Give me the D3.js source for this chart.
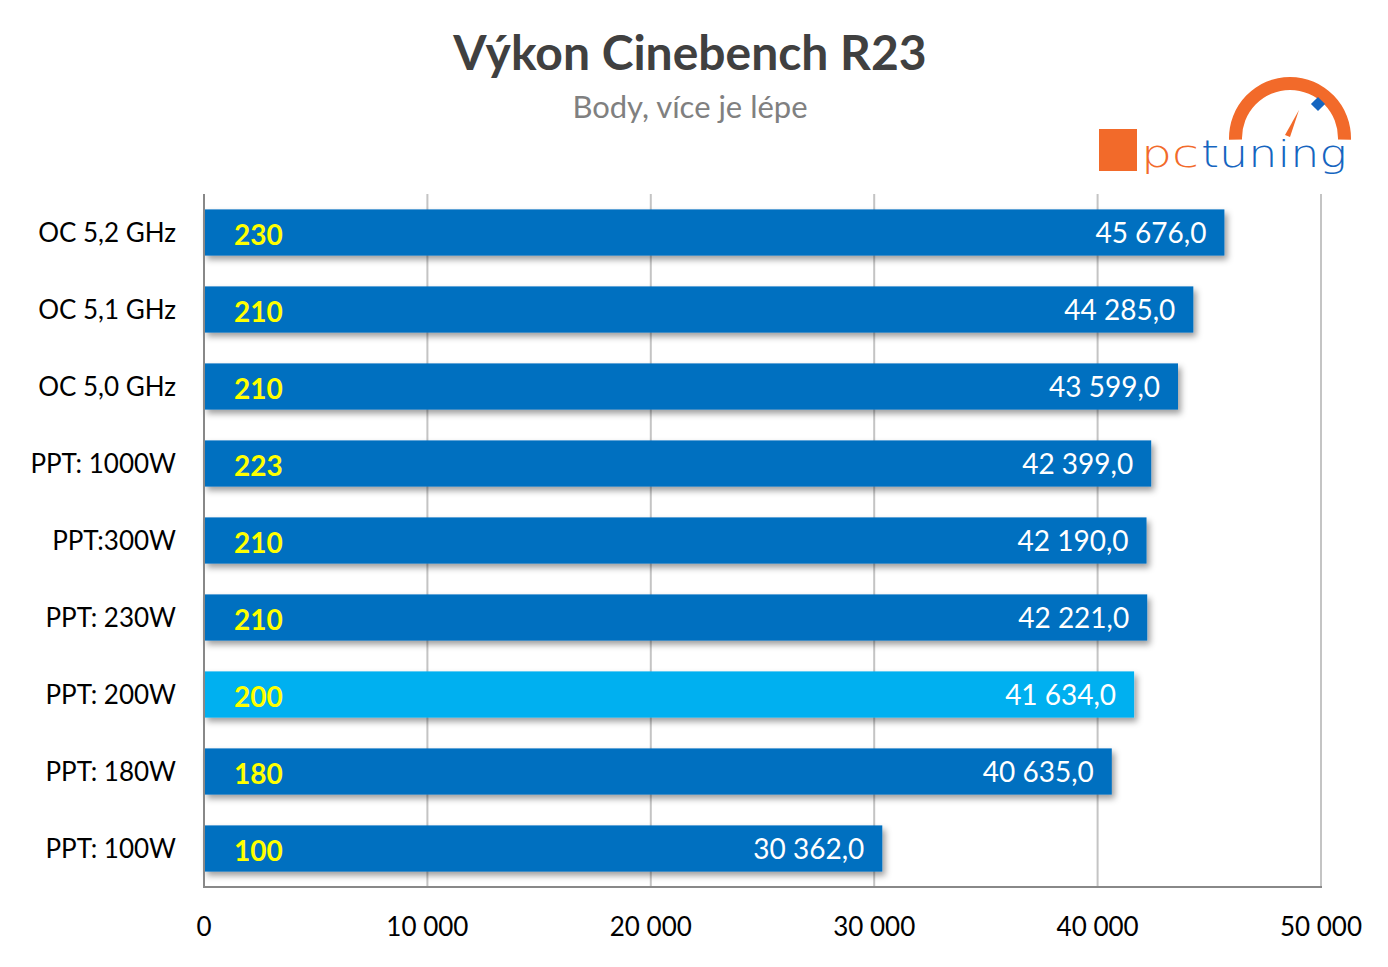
<!DOCTYPE html>
<html><head><meta charset="utf-8">
<script src="https://cdn.jsdelivr.net/npm/d3@7"></script>
<style>
html,body{margin:0;padding:0;background:#fff;}
svg{display:block;font-family:Lato, "Open Sans", sans-serif;}
</style></head>
<body>
<script>
const categories = ["OC 5,2 GHz","OC 5,1 GHz","OC 5,0 GHz","PPT: 1000W","PPT:300W","PPT: 230W","PPT: 200W","PPT: 180W","PPT: 100W"];
const scores = [45676, 44285, 43599, 42399, 42190, 42221, 41634, 40635, 30362];
const powerLabels = ["230","210","210","223","210","210","200","180","100"];
const highlighted = ["PPT: 200W"];
const xTicks = [0, 10000, 20000, 30000, 40000, 50000];
const title = "Výkon Cinebench R23";
const subtitle = "Body, více je lépe";

const W = 1388, H = 967;
const margin = {left: 204, right: 67, top: 194, bottom: 80};
const svg = d3.select("body").append("svg").attr("width", W).attr("height", H);

const locale = d3.formatLocale({decimal: ",", thousands: "\u00a0", grouping: [3], currency: ["", ""]});
const fmtVal = locale.format(",.1f");
const fmtTick = locale.format(",d");

const x = d3.scaleLinear().domain([0, 50000]).range([margin.left, W - margin.right]);
const y = d3.scaleBand().domain(categories).range([margin.top, H - margin.bottom]).paddingInner(0.4).paddingOuter(0.2);

const defs = svg.append("defs");
const f = defs.append("filter").attr("id", "sh").attr("x", "-5%").attr("y", "-30%").attr("width", "120%").attr("height", "180%");
f.append("feDropShadow").attr("dx", 3).attr("dy", 4).attr("stdDeviation", 3).attr("flood-color", "#000").attr("flood-opacity", 0.38);

// title
svg.append("text").attr("x", 690).attr("y", 70).attr("text-anchor", "middle")
  .attr("font-size", 48).attr("font-weight", 700).attr("fill", "#404040").text(title);
svg.append("text").attr("x", 690).attr("y", 118).attr("text-anchor", "middle")
  .attr("font-size", 31).attr("fill", "#808080").text(subtitle);

// gridlines
svg.append("g").selectAll("line").data(xTicks.slice(1)).join("line")
  .attr("x1", d => x(d)).attr("x2", d => x(d))
  .attr("y1", margin.top).attr("y2", H - margin.bottom)
  .attr("stroke", "#c4c4c4").attr("stroke-width", 2);

// bars
const data = categories.map((c, i) => ({c, v: scores[i], p: powerLabels[i]}));
svg.append("g").selectAll("rect").data(data).join("rect")
  .attr("x", x(0)).attr("y", d => y(d.c))
  .attr("width", d => x(d.v) - x(0)).attr("height", y.bandwidth())
  .attr("fill", d => highlighted.includes(d.c) ? "#00B0F0" : "#0070C0")
  .attr("filter", "url(#sh)");

// axes lines
svg.append("line").attr("x1", x(0)).attr("x2", x(0)).attr("y1", margin.top).attr("y2", H - margin.bottom + 1)
  .attr("stroke", "#888").attr("stroke-width", 2);
svg.append("line").attr("x1", x(0) - 1).attr("x2", x(50000) + 1).attr("y1", H - margin.bottom).attr("y2", H - margin.bottom)
  .attr("stroke", "#888").attr("stroke-width", 2);

// value labels
svg.append("g").selectAll("text").data(data).join("text")
  .attr("x", d => x(d.v) - 18).attr("y", d => y(d.c) + y.bandwidth() / 2 + 10)
  .attr("text-anchor", "end").attr("font-size", 28).attr("fill", "#fff")
  .text(d => fmtVal(d.v));

// power labels
svg.append("g").selectAll("text").data(data).join("text")
  .attr("x", x(0) + 30).attr("y", d => y(d.c) + y.bandwidth() / 2 + 12)
  .attr("font-size", 28).attr("font-weight", 700).attr("fill", "#FFFF00")
  .text(d => d.p);

// category labels
svg.append("g").selectAll("text").data(categories).join("text")
  .attr("x", 176).attr("y", d => y(d) + y.bandwidth() / 2 + 9)
  .attr("text-anchor", "end").attr("font-size", 26).attr("fill", "#000")
  .text(d => d);

// tick labels
svg.append("g").selectAll("text").data(xTicks).join("text")
  .attr("x", d => x(d)).attr("y", 936)
  .attr("text-anchor", "middle").attr("font-size", 26).attr("fill", "#000")
  .text(d => fmtTick(d));

// logo
const logo = svg.append("g");
logo.append("rect").attr("x", 1099).attr("y", 129).attr("width", 38).attr("height", 42).attr("fill", "#F26A2A");
const arc = d3.arc().innerRadius(48).outerRadius(61).startAngle(-1.6).endAngle(1.6);
logo.append("path").attr("d", arc()).attr("transform", "translate(1290,138)").attr("fill", "#F26A2A");
logo.append("rect").attr("x", -5).attr("y", -5).attr("width", 10).attr("height", 10)
  .attr("transform", "translate(1318,104) rotate(45)").attr("fill", "#1565C0");
logo.append("path").attr("d", "M1285,135 L1299,110 L1290,137 Z").attr("fill", "#F26A2A");
logo.append("text").attr("x", 1141).attr("y", 167).attr("font-family", "DejaVu Sans").attr("font-weight", 300)
  .attr("font-size", 38).attr("fill", "#F26A2A").attr("textLength", 58).attr("lengthAdjust", "spacingAndGlyphs").text("pc");
logo.append("text").attr("x", 1201).attr("y", 167).attr("font-family", "DejaVu Sans").attr("font-weight", 300)
  .attr("font-size", 38).attr("fill", "#1565C0").attr("textLength", 146).attr("lengthAdjust", "spacingAndGlyphs").text("tuning");
</script>
</body></html>
